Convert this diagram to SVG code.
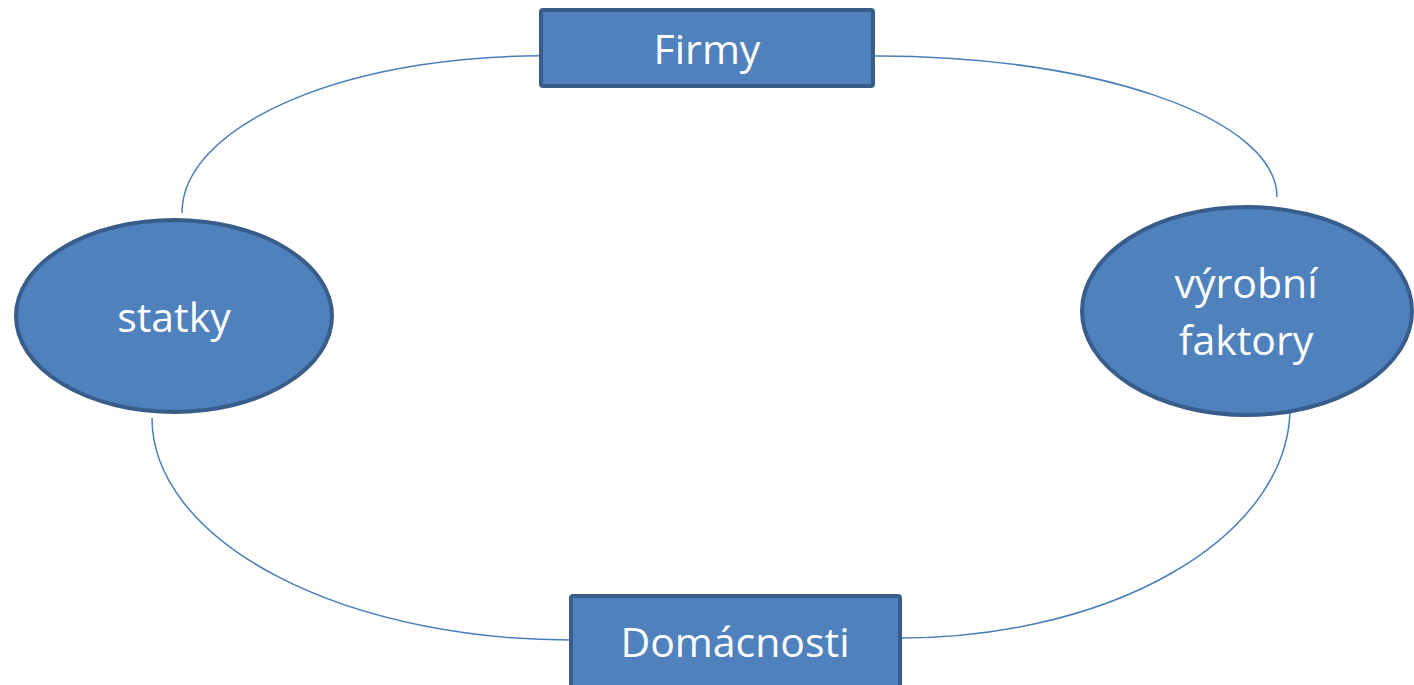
<svg xmlns="http://www.w3.org/2000/svg" width="1414" height="685" viewBox="0 0 1414 685">
<style>
.node{fill:#4F81BD;stroke:#385D8A;stroke-width:4}
.lbl{font-family:"Open Sans","Liberation Sans",sans-serif;font-size:41px;fill:#FFFFFF;text-anchor:middle}
.conn{fill:none;stroke:#4A7EBB;stroke-width:1.5}
</style>
<rect width="1414" height="685" fill="#FFFFFF"/>
<g id="connectors">
<path class="conn" d="M556,56 A359,157 0 0 0 182,213"/>
<path class="conn" d="M865,56 A399,141 0 0 1 1277,197"/>
<path class="conn" d="M152,418 A419,222 0 0 0 580,640"/>
<path class="conn" d="M1290,408 A390,230 0 0 1 890,638"/>
</g>
<g id="node-firmy">
<rect class="node" x="541" y="10" width="332" height="76" rx="2"/>
<text class="lbl" x="707" y="64">Firmy</text>
</g>
<g id="node-domacnosti">
<rect class="node" x="571" y="596" width="329" height="110" rx="2"/>
<text class="lbl" x="735" y="657">Domácnosti</text>
</g>
<g id="node-statky">
<ellipse class="node" cx="174" cy="316" rx="158" ry="96"/>
<text class="lbl" x="174" y="332">statky</text>
</g>
<g id="node-vyrobni">
<ellipse class="node" cx="1247" cy="311" rx="165" ry="104"/>
<text class="lbl" x="1246" y="298">výrobní</text>
<text class="lbl" x="1246" y="355">faktory</text>
</g>
</svg>
